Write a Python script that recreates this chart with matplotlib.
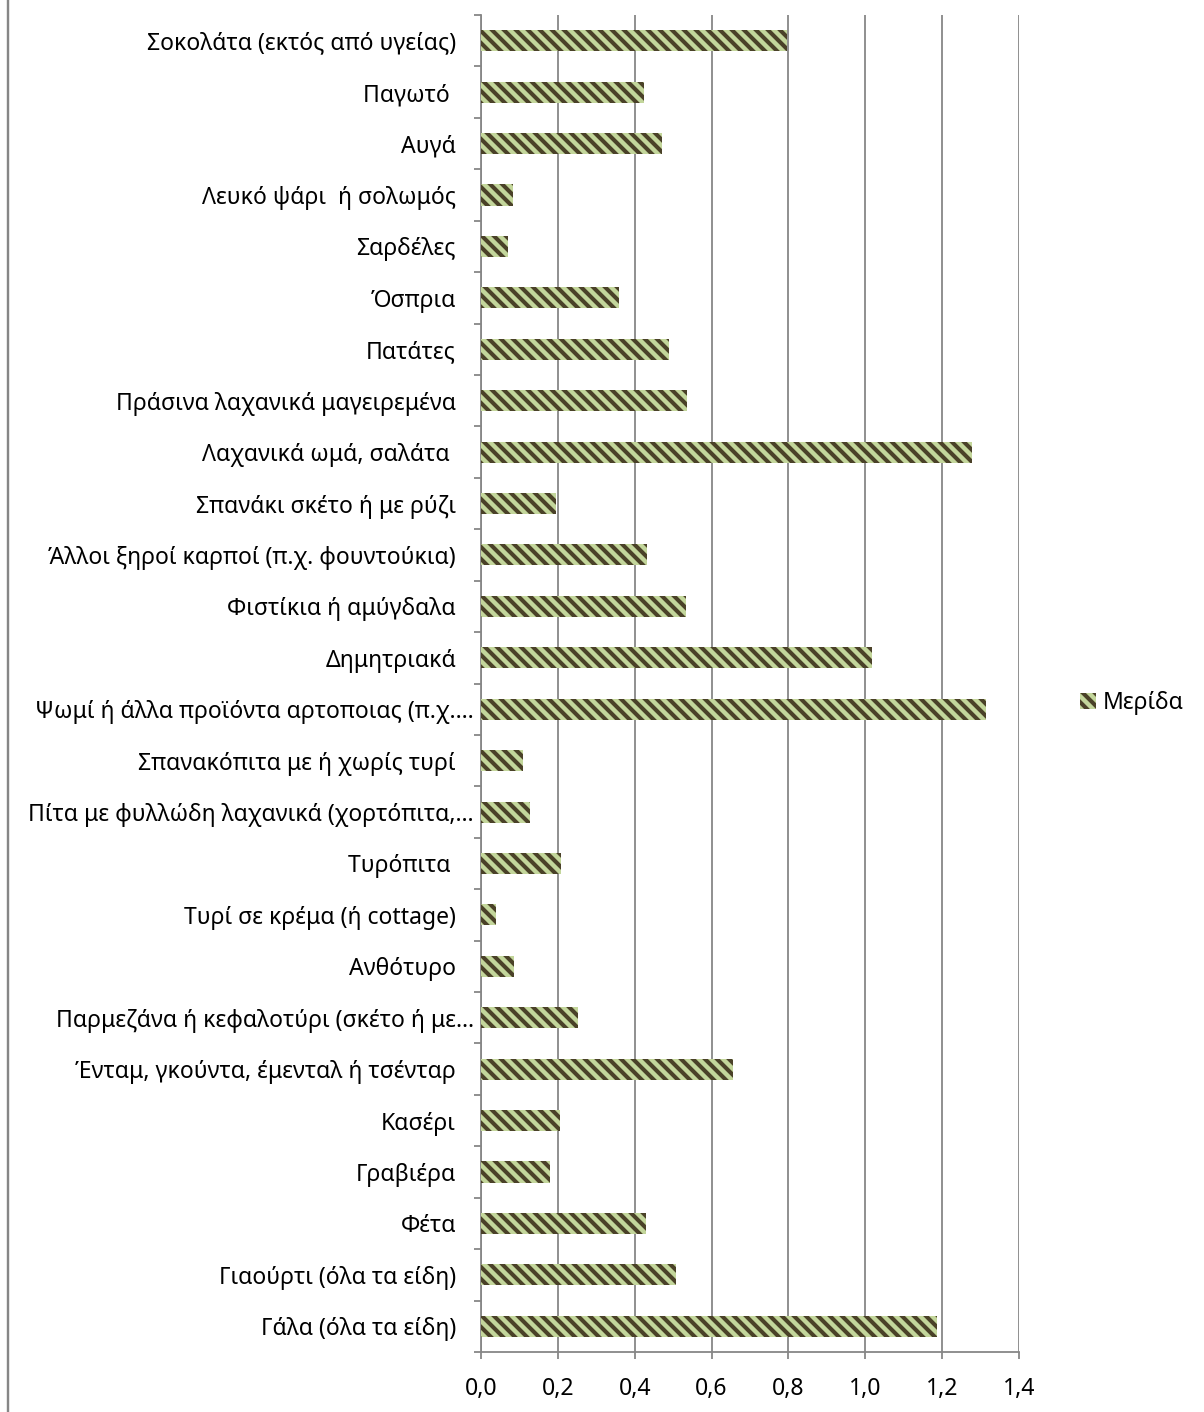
import numpy as np
import matplotlib
matplotlib.use("Agg")
from matplotlib import pyplot as plt
from matplotlib.patches import Patch
from matplotlib.lines import Line2D
from matplotlib.transforms import ScaledTranslation

# κατηγορίες από κάτω προς τα πάνω (όπως στο Excel)
categories = [
    "Γάλα (όλα τα είδη)",
    "Γιαούρτι (όλα τα είδη)",
    "Φέτα",
    "Γραβιέρα",
    "Κασέρι",
    "Ένταμ, γκούντα, έμενταλ ή τσένταρ",
    "Παρμεζάνα ή κεφαλοτύρι (σκέτο ή με…",
    "Ανθότυρο",
    "Τυρί σε κρέμα (ή cottage)",
    "Τυρόπιτα ",
    "Πίτα με φυλλώδη λαχανικά (χορτόπιτα,…",
    "Σπανακόπιτα με ή χωρίς τυρί",
    "Ψωμί ή άλλα προϊόντα αρτοποιας (π.χ.…",
    "Δημητριακά",
    "Φιστίκια ή αμύγδαλα",
    "Άλλοι ξηροί καρποί (π.χ. φουντούκια)",
    "Σπανάκι σκέτο ή με ρύζι",
    "Λαχανικά ωμά, σαλάτα ",
    "Πράσινα λαχανικά μαγειρεμένα",
    "Πατάτες",
    "Όσπρια",
    "Σαρδέλες",
    "Λευκό ψάρι  ή σολωμός",
    "Αυγά",
    "Παγωτό ",
    "Σοκολάτα (εκτός από υγείας)",
]
merida = [1.187, 0.507, 0.429, 0.180, 0.206, 0.656, 0.252, 0.086, 0.039, 0.208,
          0.128, 0.109, 1.314, 1.017, 0.533, 0.432, 0.195, 1.278, 0.536, 0.489,
          0.359, 0.070, 0.083, 0.471, 0.424, 0.796]
xticks = [0.0, 0.2, 0.4, 0.6, 0.8, 1.0, 1.2, 1.4]

plt.rcParams['font.family'] = ['Noto Sans', 'DejaVu Sans']
plt.rcParams['hatch.linewidth'] = 2.2

dark = "#4a4128"
light = "#c3d69b"
grey = "#868686"
fs = 11.5

fig = plt.figure(figsize=(1204 / 144, 1412 / 144), dpi=144)
ax = fig.add_axes([481 / 1204, 1 - 1352 / 1412, 538 / 1204, 1337 / 1412])

y = np.arange(len(categories))
ax.barh(y, merida, height=0.41, color=dark, edgecolor=light, linewidth=0,
        hatch="\\\\\\\\", zorder=3)

ax.set_xlim(0, 1.4)
ax.set_ylim(-0.5, len(categories) - 0.5)
ax.set_xticks(xticks)
ax.set_xticklabels([f"{v:.1f}".replace(".", ",") for v in xticks])
ax.set_yticks(y)
ax.set_yticklabels(categories)
ax.set_yticks(np.arange(-0.5, len(categories)), minor=True)

ax.grid(axis="x", color=grey, linewidth=0.9, zorder=0)
for s in ["top", "right"]:
    ax.spines[s].set_visible(False)
for s in ["left", "bottom"]:
    ax.spines[s].set_color(grey)
    ax.spines[s].set_linewidth(0.9)

ax.tick_params(axis="y", which="major", length=0, pad=12.5, labelsize=fs)
ax.tick_params(axis="y", which="minor", length=3.5, color=grey, width=0.9)
ax.tick_params(axis="x", length=3.5, color=grey, width=0.9, pad=9, labelsize=fs)

# οι κομμένες ετικέτες (με …) ξεπερνούν λίγο τη στοίχιση, όπως στο Excel
shift = ScaledTranslation(18 / 144, 0, fig.dpi_scale_trans)
for lab in ax.get_yticklabels():
    if lab.get_text().endswith("…"):
        lab.set_transform(lab.get_transform() + shift)

# υπόμνημα
h = Patch(facecolor=dark, edgecolor=light, linewidth=0, hatch="\\\\\\\\")
fig.legend([h], ["Μερίδα"], loc="center", bbox_to_anchor=(1132 / 1204, 1 - 703 / 1412),
           frameon=False, fontsize=fs, handlelength=0.7, handleheight=0.7,
           handletextpad=0.3, borderpad=0)

# περίγραμμα περιοχής γραφήματος (μόνο η αριστερή πλευρά φαίνεται)
fig.add_artist(Line2D([8 / 1204, 8 / 1204], [0, 1], color=grey, linewidth=1.2))

fig.savefig("out.png", dpi=144)
